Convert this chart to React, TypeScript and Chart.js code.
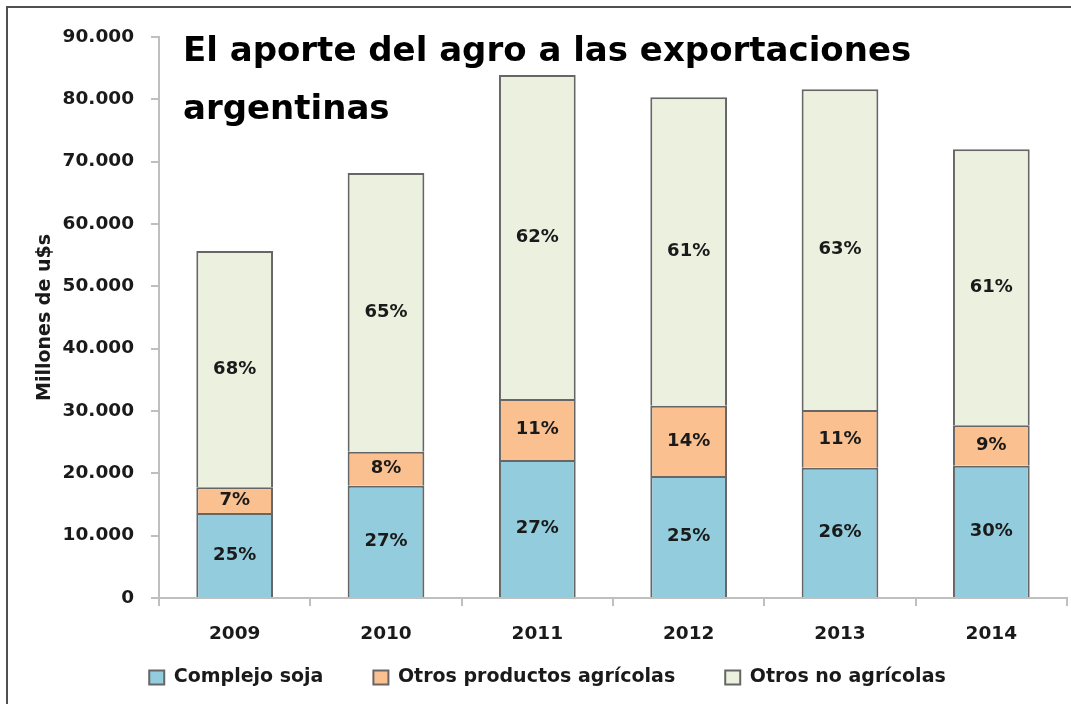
import React, { useEffect, useRef } from 'react';
import { Chart, registerables } from 'chart.js';

Chart.register(...registerables);

const categories = ['2009', '2010', '2011', '2012', '2013', '2014'];
const seriesNames = ['Complejo soja', 'Otros productos agrícolas', 'Otros no agrícolas'];
const sojaValues = [13640, 18020, 22140, 19570, 20910, 21230];
const otrosAgricolasValues = [4120, 5450, 9790, 11280, 9250, 6470];
const noAgricolasValues = [37910, 44720, 51980, 49480, 51450, 44290];
const sojaShare = ['25%', '27%', '27%', '25%', '26%', '30%'];
const otrosAgricolasShare = ['7%', '8%', '11%', '14%', '11%', '9%'];
const noAgricolasShare = ['68%', '65%', '62%', '61%', '63%', '61%'];
const yTickLabels = ['0', '10.000', '20.000', '30.000', '40.000', '50.000', '60.000', '70.000', '80.000', '90.000'];
const titleLines = ['El aporte del agro a las exportaciones', 'argentinas'];
const yAxisTitle = 'Millones de u$s';

const shareLabels = [sojaShare, otrosAgricolasShare, noAgricolasShare];
const FONT = '"DejaVu Sans", sans-serif';

const decorPlugin = {
  id: 'decor',
  afterLayout(chart: any) {
    const lg = chart.legend;
    if (lg) {
      lg.top = 618;
      lg.bottom = 698;
      lg.height = 80;
    }
  },
  beforeDraw(chart: any) {
    const ctx = chart.ctx;
    ctx.save();
    ctx.fillStyle = '#ffffff';
    ctx.fillRect(0, 0, chart.width, chart.height);
    ctx.fillStyle = '#505050';
    ctx.fillRect(6, 6, chart.width - 6, 2);
    ctx.fillRect(6, 6, 2, chart.height - 6);
    ctx.restore();
  },
  afterDatasetsDraw(chart: any) {
    const ctx = chart.ctx;
    ctx.save();
    ctx.font = `bold 18px ${FONT}`;
    ctx.fillStyle = '#1a1a1a';
    ctx.textAlign = 'center';
    ctx.textBaseline = 'middle';
    chart.data.datasets.forEach((_ds: any, di: number) => {
      const meta = chart.getDatasetMeta(di);
      meta.data.forEach((bar: any, i: number) => {
        const { x, y, base } = bar.getProps(['x', 'y', 'base'], true);
        ctx.fillText(shareLabels[di][i], x, (y + base) / 2);
      });
    });
    ctx.font = `bold 34px ${FONT}`;
    ctx.fillStyle = '#000000';
    ctx.textAlign = 'left';
    ctx.textBaseline = 'alphabetic';
    const left = chart.chartArea.left + 24;
    ctx.fillText(titleLines[0], left, 61);
    ctx.fillText(titleLines[1], left, 119);
    ctx.restore();
  },
};

export default function App() {
  const canvasRef = useRef<HTMLCanvasElement | null>(null);

  useEffect(() => {
    if (!canvasRef.current) return;
    const tickFont = { family: FONT, size: 18.5, weight: 'bold' as const };
    const gridOpts = {
      display: true,
      drawOnChartArea: false,
      drawTicks: true,
      tickLength: 8,
      color: '#bfbfbf',
      lineWidth: 2,
    };
    const chart = new Chart(canvasRef.current, {
      type: 'bar',
      data: {
        labels: categories,
        datasets: [
          {
            label: seriesNames[0],
            data: sojaValues,
            backgroundColor: '#93cddd',
            borderColor: '#666666',
            borderWidth: 2,
          },
          {
            label: seriesNames[1],
            data: otrosAgricolasValues,
            backgroundColor: '#fac090',
            borderColor: '#666666',
            borderWidth: 2,
          },
          {
            label: seriesNames[2],
            data: noAgricolasValues,
            backgroundColor: '#ebf1de',
            borderColor: '#666666',
            borderWidth: 2,
          },
        ],
      },
      options: {
        responsive: false,
        animation: false,
        layout: { padding: { left: 28, right: 4, top: 37, bottom: 16 } },
        datasets: {
          bar: { categoryPercentage: 1, barPercentage: 0.507 },
        },
        plugins: {
          legend: {
            position: 'bottom',
            maxHeight: 40,
            labels: {
              boxWidth: 15,
              boxHeight: 14,
              padding: 50,
              color: '#1a1a1a',
              font: { family: FONT, size: 19, weight: 'bold' },
            },
          },
          tooltip: { enabled: false },
        },
        scales: {
          x: {
            stacked: true,
            grid: { ...gridOpts, offset: true },
            border: { color: '#bfbfbf', width: 2 },
            ticks: { padding: 17, color: '#1a1a1a', font: tickFont },
            afterFit: (s: any) => {
              s.height = 50;
            },
          },
          y: {
            stacked: true,
            min: 0,
            max: 90000,
            grid: gridOpts,
            border: { color: '#bfbfbf', width: 2 },
            ticks: {
              stepSize: 10000,
              padding: 17,
              color: '#1a1a1a',
              font: tickFont,
              callback: (_v: any, i: number) => yTickLabels[i],
            },
            title: {
              display: true,
              text: yAxisTitle,
              color: '#1a1a1a',
              font: { family: FONT, size: 19, weight: 'bold' },
              padding: { top: 6, bottom: 0 },
            },
            afterFit: (s: any) => {
              s.width = 131;
            },
          },
        },
      },
      plugins: [decorPlugin],
    });
    return () => chart.destroy();
  }, []);

  return (
    <div style={{ position: 'absolute', left: 0, top: 0, width: 1071, height: 704, background: '#fff' }}>
      <canvas ref={canvasRef} width={1071} height={704} />
    </div>
  );
}
